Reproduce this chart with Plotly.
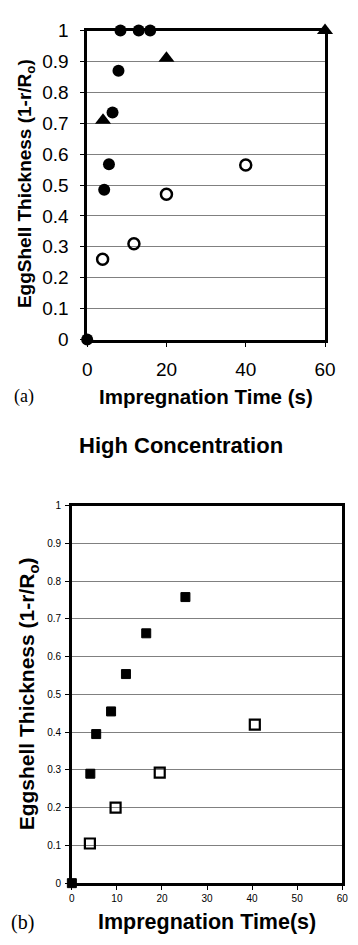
import plotly.graph_objects as go

# ---- Panel (a) data ----
a_filled_x = [0, 4.3, 5.5, 6.4, 7.9, 8.4, 13.0, 15.9]
a_filled_y = [0, 0.485, 0.567, 0.735, 0.87, 1.0, 1.0, 1.0]
a_tri_x = [4.0, 20.0, 60.0]
a_tri_y = [0.71, 0.91, 1.0]
a_open_x = [3.9, 11.8, 20.0, 40.0]
a_open_y = [0.26, 0.31, 0.47, 0.565]

# ---- Panel (b) data ----
b_filled_x = [0, 4.1, 5.4, 8.7, 12.0, 16.5, 25.2]
b_filled_y = [0, 0.29, 0.395, 0.455, 0.554, 0.662, 0.758]
b_open_x = [4.0, 9.7, 19.5, 40.6]
b_open_y = [0.105, 0.2, 0.293, 0.42]

a_xticks = [0, 20, 40, 60]
b_xticks = [0, 10, 20, 30, 40, 50, 60]
yticks = [0, 0.1, 0.2, 0.3, 0.4, 0.5, 0.6, 0.7, 0.8, 0.9, 1]
ytick_text = ["0", "0.1", "0.2", "0.3", "0.4", "0.5", "0.6", "0.7", "0.8", "0.9", "1"]

W, H = 358, 945
SANS = "Liberation Sans"
SERIF = "Liberation Serif"

fig = go.Figure()

fig.add_trace(go.Scatter(x=a_open_x, y=a_open_y, mode="markers", xaxis="x", yaxis="y",
                         marker=dict(symbol="circle-open", size=11, color="black", line=dict(width=2.5, color="black")),
                         cliponaxis=False, showlegend=False))
fig.add_trace(go.Scatter(x=a_tri_x, y=a_tri_y, mode="markers", xaxis="x", yaxis="y",
                         marker=dict(symbol="triangle-up", size=14, color="black"),
                         cliponaxis=False, showlegend=False))
fig.add_trace(go.Scatter(x=a_filled_x, y=a_filled_y, mode="markers", xaxis="x", yaxis="y",
                         marker=dict(symbol="circle", size=12, color="black"),
                         cliponaxis=False, showlegend=False))

fig.add_trace(go.Scatter(x=b_open_x, y=b_open_y, mode="markers", xaxis="x2", yaxis="y2",
                         marker=dict(symbol="square-open", size=10, color="black", line=dict(width=2.2, color="black")),
                         cliponaxis=False, showlegend=False))
fig.add_trace(go.Scatter(x=b_filled_x, y=b_filled_y, mode="markers", xaxis="x2", yaxis="y2",
                         marker=dict(symbol="square", size=9, color="black", line=dict(width=1, color="black")),
                         cliponaxis=False, showlegend=False))

def px(x):
    return x / W

def py(y):
    return 1 - y / H

axis_common = dict(showline=True, linecolor="black", linewidth=2.5, mirror=True,
                   zeroline=False, ticks="outside", tickcolor="black", tickwidth=1)

fig.update_layout(
    width=W, height=H,
    margin=dict(l=0, r=0, t=0, b=0),
    paper_bgcolor="white", plot_bgcolor="white",
    font=dict(family=SANS, color="black"),
    xaxis=dict(domain=[px(86), px(335)], range=[0, 60], tickvals=a_xticks, showgrid=False,
               anchor="y", tickfont=dict(size=19, family=SANS), ticklen=5, ticklabelstandoff=6,
               **axis_common),
    yaxis=dict(domain=[py(337), py(21)], range=[0, 1], tickvals=yticks, ticktext=ytick_text,
               showgrid=True, gridcolor="#808080", gridwidth=1, anchor="x",
               tickfont=dict(size=19, family=SANS), ticklen=4, ticklabelstandoff=8, **axis_common),
    xaxis2=dict(domain=[px(70), px(353)], range=[0, 60], tickvals=b_xticks, showgrid=False,
                anchor="y2", tickfont=dict(size=10, family=SANS), ticklen=4, **axis_common),
    yaxis2=dict(domain=[py(893), py(507)], range=[0, 1], tickvals=yticks, ticktext=ytick_text,
                showgrid=True, gridcolor="#808080", gridwidth=1, anchor="x2",
                tickfont=dict(size=10, family=SANS), ticklen=4, ticklabelstandoff=2, **axis_common),
)

ann = [
    dict(text="<b>EggShell Thickness (1-r/R<sub>o</sub>)</b>", x=px(22), y=py(178), textangle=-90,
         font=dict(size=19, family=SANS)),
    dict(text="<b>Impregnation Time (s)</b>", x=px(210), y=py(395), font=dict(size=20.5, family=SANS)),
    dict(text="(a)", x=px(20), y=py(395), font=dict(size=18, family=SERIF)),
    dict(text="<b>High Concentration</b>", x=px(184), y=py(445), font=dict(size=22, family=SANS)),
    dict(text="<b>Eggshell Thickness (1-r/R<sub>o</sub>)</b>", x=px(25), y=py(699), textangle=-90,
         font=dict(size=21, family=SANS)),
    dict(text="<b>Impregnation Time(s)</b>", x=px(211), y=py(933), font=dict(size=21.5, family=SANS)),
    dict(text="(b)", x=px(18), y=py(933), font=dict(size=20, family=SERIF)),
]
for a in ann:
    a.update(xref="paper", yref="paper", showarrow=False, xanchor="center", yanchor="middle")
fig.update_layout(annotations=ann)

fig.write_html("out.html")
